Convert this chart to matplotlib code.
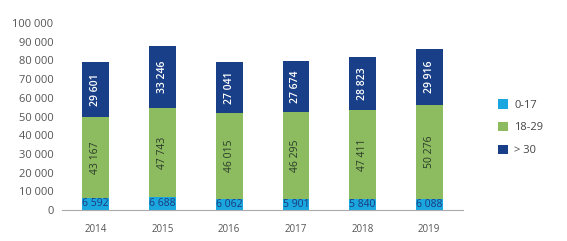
import matplotlib.pyplot as plt
import numpy as np

# =============================================================================
#  Data
# =============================================================================
years = ["2014", "2015", "2016", "2017", "2018", "2019"]
age_0_17 = [6592, 6688, 6062, 5901, 5840, 6088]
age_18_29 = [43167, 47743, 46015, 46295, 47411, 50276]
age_30_plus = [29601, 33246, 27041, 27674, 28823, 29916]

series_labels = ["0-17", "18-29", "> 30"]
colors = ["#1aa7e0", "#8dbb5f", "#183f88"]


def fmt(v):
    return f"{v:,}".replace(",", " ")


# =============================================================================
#  Plot
# =============================================================================
plt.rcParams["font.family"] = "Open Sans"

fig = plt.figure(figsize=(5.67, 2.41), dpi=100)
ax = fig.add_axes([0.109, 0.129, 0.708, 0.775])

x = np.arange(len(years))
w = 0.4
b1 = np.array(age_0_17)
b2 = b1 + np.array(age_18_29)

ax.bar(x, age_0_17, width=w, color=colors[0], label=series_labels[0])
ax.bar(x, age_18_29, width=w, bottom=b1, color=colors[1], label=series_labels[1])
ax.bar(x, age_30_plus, width=w, bottom=b2, color=colors[2], label=series_labels[2])

for i in range(len(years)):
    ax.text(x[i], age_0_17[i] / 2, fmt(age_0_17[i]), ha="center", va="center",
            fontsize=7.5, color="#1d3a7a")
    ax.text(x[i], b1[i] + age_18_29[i] / 2, fmt(age_18_29[i]), ha="center",
            va="center", rotation=90, fontsize=7.5, color="#2a3a2a")
    ax.text(x[i], b2[i] + age_30_plus[i] / 2, fmt(age_30_plus[i]), ha="center",
            va="center", rotation=90, fontsize=7.5, color="white",
            fontweight="semibold")

ax.set_xlim(-0.51, 5.51)
ax.set_ylim(0, 100000)
ax.set_xticks(x)
ax.set_xticklabels(years)
yt = np.arange(0, 100001, 10000)
ax.set_yticks(yt)
ax.set_yticklabels([fmt(v) for v in yt])
ax.tick_params(axis="x", length=0, labelsize=7, labelcolor="#555555", pad=10)
ax.tick_params(axis="y", length=0, labelsize=8, labelcolor="#555555", pad=6)

for s in ["top", "right", "left"]:
    ax.spines[s].set_visible(False)
ax.spines["bottom"].set_color("#aaaaaa")

handles, labels = ax.get_legend_handles_labels()
fig.legend(handles, labels, loc="center left", bbox_to_anchor=(0.86, 0.47),
           frameon=False, fontsize=8, handlelength=0.9, handleheight=0.9,
           labelspacing=1.0, handletextpad=0.6, labelcolor="#444444")

plt.savefig("out.png", dpi=100)
